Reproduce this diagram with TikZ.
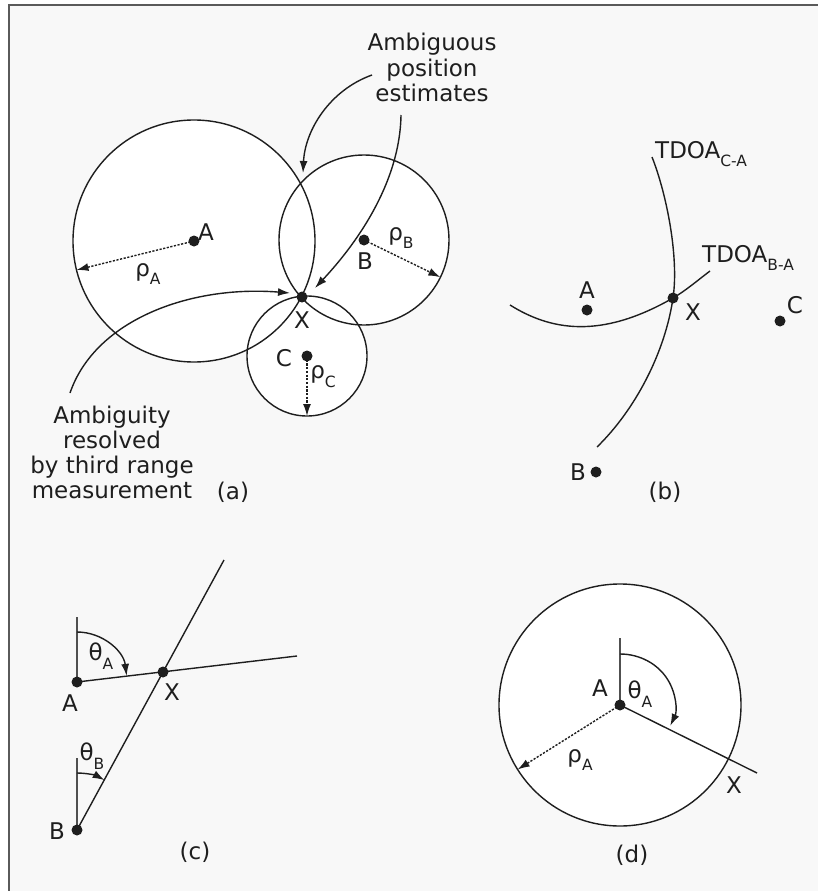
\documentclass[tikz,border=0pt]{standalone}
\usepackage{fontspec}
\setmainfont{DejaVu Sans}
\usetikzlibrary{arrows.meta}
\definecolor{bg}{HTML}{F8F8F8}
\definecolor{ink}{HTML}{1E1E1E}
\definecolor{framec}{HTML}{5A5A5A}
\definecolor{refc}{HTML}{505050}
\newcommand{\lsub}[1]{\raisebox{-0.38em}{\fontsize{15.5}{16}\selectfont #1}}
\begin{document}
\begin{tikzpicture}[x=1pt,y=-1pt,
  lbl/.style={inner sep=0pt, font=\fontsize{23}{25.3}\selectfont, text=ink},
  dot/.style={circle, fill=ink, inner sep=0pt, minimum size=11pt},
  ln/.style={draw=ink, line width=1.4pt},
  arr/.style={ln, -{Latex[length=12pt,width=8pt]}},
  darr/.style={draw=ink, line width=1.4pt, dash pattern=on 2.2pt off 1.5pt, -{Latex[length=12pt,width=8pt]}},
  refl/.style={draw=refc, line width=2.2pt},
  disc/.style={fill=white}
]
\useasboundingbox (0,0) rectangle (818,891);
\fill[white] (0,0) rectangle (818,891);
\fill[bg] (9,5) rectangle (818,891);
\draw[framec, line width=2.2pt] (9,891) -- (9,5) -- (818,5);

% ---------- panel (a) ----------
\coordinate (aA) at (194,241);
\coordinate (aB) at (364,240);
\coordinate (aC) at (307,356);
\coordinate (aX) at (302,297);
\fill[disc] (aA) circle[radius=121];
\fill[disc] (aB) circle[radius=85];
\fill[disc] (aC) circle[radius=60];
\draw[ln] (aA) circle[radius=121];
\draw[ln] (aB) circle[radius=85];
\draw[ln] (aC) circle[radius=60];
\node[dot] (daA) at (aA) {};
\node[dot] (daB) at (aB) {};
\node[dot] (daC) at (aC) {};
\node[dot] (daX) at (aX) {};
\coordinate (aAr) at (76.5,270);
\coordinate (aBr) at (440.4,277.2);
\coordinate (aCr) at (307,416);
\draw[darr] (daA.center) -- (aAr);
\draw[darr] (daB.center) -- (aBr);
\draw[darr] (daC.center) -- (aCr);
\node[lbl] (laA) at (206,232) {A};
\node[lbl] (laB) at (365,261) {B};
\node[lbl] (laC) at (284,358) {C};
\node[lbl] (laX) at (302,320) {X};
\node[lbl] (lrA) at (148,274) {ρ\lsub{A}};
\node[lbl] (lrB) at (401,238) {ρ\lsub{B}};
\node[lbl] (lrC) at (323,377) {ρ\lsub{C}};
\node[lbl, align=center, anchor=south] (amb) at (432,102) {Ambiguous\\position\\estimates};
\node[lbl, align=center, anchor=south] (res) at (112,499.5) {Ambiguity\\resolved\\by third range\\measurement};
\node[lbl] (capa) at (233,492) {(a)};
\coordinate (m1s) at (372,75);
\coordinate (m1e) at (303,173);
\coordinate (m2s) at (401,115);
\coordinate (m2e) at (315,288);
\coordinate (m3s) at (70,393);
\coordinate (m3e) at (290,293);
\draw[arr] (m1s) .. controls (330,90) and (305,130) .. (m1e);
\draw[arr] (m2s) .. controls (400,180) and (360,240) .. (m2e);
\draw[arr] (m3s) .. controls (95,320) and (190,285) .. (m3e);

% ---------- panel (b) ----------
\coordinate (bA) at (587,310);
\coordinate (bX) at (673,298);
\coordinate (bC) at (780,321);
\coordinate (bB) at (596,472);
\coordinate (t1s) at (652,157);
\coordinate (t1e) at (597,447);
\coordinate (t2s) at (510,305);
\coordinate (t2e) at (710,271);
\draw[ln] (t1s) .. controls (667,195) and (679,258) .. (bX) .. controls (665,353) and (635,410) .. (t1e);
\draw[ln] (t2s) .. controls (550,330) and (600,340) .. (bX) .. controls (686,290.5) and (698,280) .. (t2e);
\node[dot] (dbA) at (bA) {};
\node[dot] (dbX) at (bX) {};
\node[dot] (dbC) at (bC) {};
\node[dot] (dbB) at (bB) {};
\node[lbl] (lbA) at (587,290) {A};
\node[lbl] (lbX) at (693,312) {X};
\node[lbl] (lbC) at (795,305) {C};
\node[lbl] (lbB) at (578,472) {B};
\node[lbl, anchor=base west] (tca) at (655,158) {TDOA\lsub{C-A}};
\node[lbl, anchor=base west] (tba) at (702,262) {TDOA\lsub{B-A}};
\node[lbl] (capb) at (665,492) {(b)};

% ---------- panel (c) ----------
\coordinate (cA) at (77,682);
\coordinate (cX) at (163,672);
\coordinate (cB) at (77,830);
\coordinate (cAe) at (297,656);
\coordinate (cBe) at (224,560);
\coordinate (cAv) at (77,617);
\coordinate (cBv) at (77,758);
\draw[ln] (cA) -- (cAe);
\draw[ln] (cB) -- (cBe);
\draw[refl] (cA) -- (cAv);
\draw[refl] (cB) -- (cBv);
\draw[arr] (cA) ++(-90:50) arc[start angle=-90, end angle=-7, radius=50];
\draw[arr] (cB) ++(-90:57) arc[start angle=-90, end angle=-61, radius=57];
\node[dot] (dcA) at (cA) {};
\node[dot] (dcX) at (cX) {};
\node[dot] (dcB) at (cB) {};
\node[lbl] (lcA) at (70,703) {A};
\node[lbl] (lcX) at (172,692) {X};
\node[lbl] (lcB) at (57,831) {B};
\node[lbl] (lcTA) at (101,656) {θ\lsub{A}};
\node[lbl] (lcTB) at (92,756) {θ\lsub{B}};
\node[lbl] (capc) at (195,852) {(c)};

% ---------- panel (d) ----------
\coordinate (dA) at (620,705);
\coordinate (dAv) at (620,638);
\coordinate (dAe) at (757,773);
\coordinate (dAr) at (517.6,769.5);
\fill[disc] (dA) circle[radius=121];
\draw[ln] (dA) circle[radius=121];
\draw[ln] (dA) -- (dAe);
\draw[refl] (dA) -- (dAv);
\draw[arr] (dA) ++(-90:51) arc[start angle=-90, end angle=24, x radius=55, y radius=51];
\node[dot] (ddA) at (dA) {};
\draw[darr] (ddA.center) -- (dAr);
\node[lbl] (ldA) at (600,688) {A};
\node[lbl] (ldT) at (640,694) {θ\lsub{A}};
\node[lbl] (ldR) at (580,760) {ρ\lsub{A}};
\node[lbl] (ldX) at (734,785) {X};
\node[lbl] (capd) at (632,855) {(d)};
\end{tikzpicture}
\end{document}
